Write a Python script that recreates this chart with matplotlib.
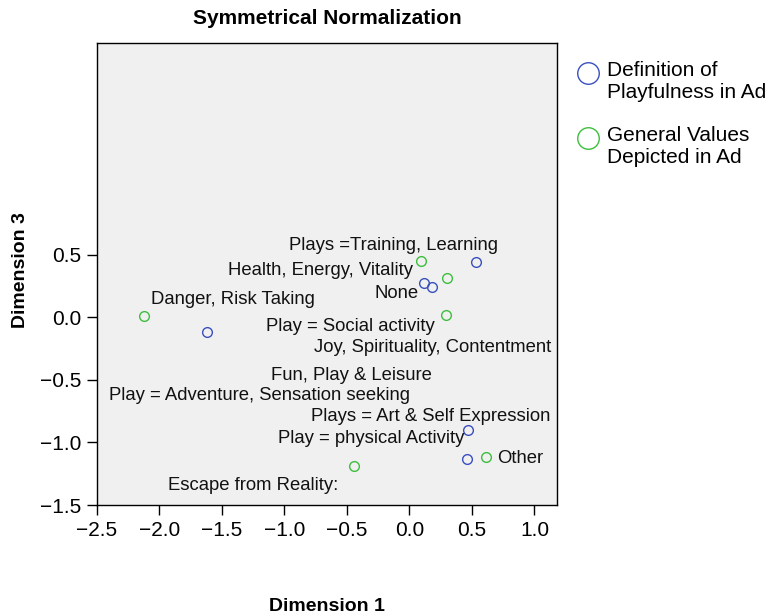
import matplotlib
matplotlib.use('Agg')
import matplotlib.pyplot as plt
from matplotlib.lines import Line2D

plt.rcParams['font.family'] = ['Liberation Sans', 'DejaVu Sans']

# category points (dimension 1, dimension 3)
def_names = ['Plays =Training, Learning', 'None', 'Play = Social activity',
             'Play = Adventure, Sensation seeking', 'Plays = Art & Self Expression',
             'Play = physical Activity']
def_x = [0.53, 0.18, 0.12, -1.62, 0.47, 0.46]
def_y = [0.44, 0.24, 0.27, -0.12, -0.90, -1.13]

val_names = ['Health, Energy, Vitality', 'Danger, Risk Taking',
             'Joy, Spirituality, Contentment', 'Fun, Play & Leisure',
             'Escape from Reality:', 'Other']
val_x = [0.09, -2.12, 0.29, 0.30, -0.44, 0.61]
val_y = [0.45, 0.01, 0.02, 0.31, -1.19, -1.12]

# where SPSS put the labels (data units, text centre)
label_text = ['Plays =Training, Learning', 'Health, Energy, Vitality', 'None',
              'Danger, Risk Taking', 'Play = Social activity',
              'Joy, Spirituality, Contentment', 'Fun, Play & Leisure',
              'Play = Adventure, Sensation seeking', 'Plays = Art & Self Expression',
              'Play = physical Activity', 'Other', 'Escape from Reality:']
label_x = [-0.124, -0.714, -0.106, -1.41, -0.476, 0.186, -0.468, -1.20, 0.17, -0.308, 0.883, -1.25]
label_y = [0.576, 0.376, 0.19, 0.142, -0.077, -0.243, -0.464, -0.624, -0.79, -0.97, -1.126, -1.344]

legend_labels = ['Definition of\nPlayfulness in Ad', 'General Values\nDepicted in Ad']

xticks = [-2.5, -2.0, -1.5, -1.0, -0.5, 0.0, 0.5, 1.0]
yticks = [-1.5, -1.0, -0.5, 0.0, 0.5]

blue = '#3a4fbf'
green = '#3cbf3c'

W, H = 771, 614
fig = plt.figure(figsize=(W / 100, H / 100), dpi=100)
ax = fig.add_axes([0.1258, 0.1775, 0.5966, 0.7524])
ax.set_facecolor('#f0f0f0')

ax.plot(def_x, def_y, 'o', ms=7, mfc='none', mec=blue, mew=1.0, ls='none')
ax.plot(val_x, val_y, 'o', ms=7, mfc='none', mec=green, mew=1.0, ls='none')

for t, x, y in zip(label_text, label_x, label_y):
    ax.text(x, y, t, ha='center', va='center', fontsize=13.3, color='#111111')

ax.set_xlim(-2.5, 1.18)
ax.set_ylim(-1.5, 2.19)
ax.set_xticks(xticks)
ax.set_yticks(yticks)
ax.tick_params(labelsize=15, length=7.5, width=1, direction='out', pad=4)
for s in ax.spines.values():
    s.set_linewidth(1.0)

fig.text(0.424, 0.97, 'Symmetrical Normalization', ha='center', va='center',
         fontsize=15, fontweight='bold')
fig.text(0.424, 0.013, 'Dimension 1', ha='center', va='center',
         fontsize=14, fontweight='bold')
fig.text(0.026, 0.56, 'Dimension 3', ha='center', va='center', rotation=90,
         fontsize=14, fontweight='bold')

# legend drawn by hand: circle sits beside the first line of each label
for i, (lab, col) in enumerate(zip(legend_labels, [blue, green])):
    top = 58 + i * 65  # pixel row of label top
    fig.add_artist(Line2D([588 / W], [1 - (top + 14.5) / H], transform=fig.transFigure,
                          marker='o', ms=15.5, mfc='none', mec=col, mew=1.0, ls='none'))
    fig.text(607 / W, 1 - (top + 23.5) / H, lab, ha='left', va='center',
             fontsize=15, linespacing=1.25)

fig.savefig('out.png', dpi=100)
